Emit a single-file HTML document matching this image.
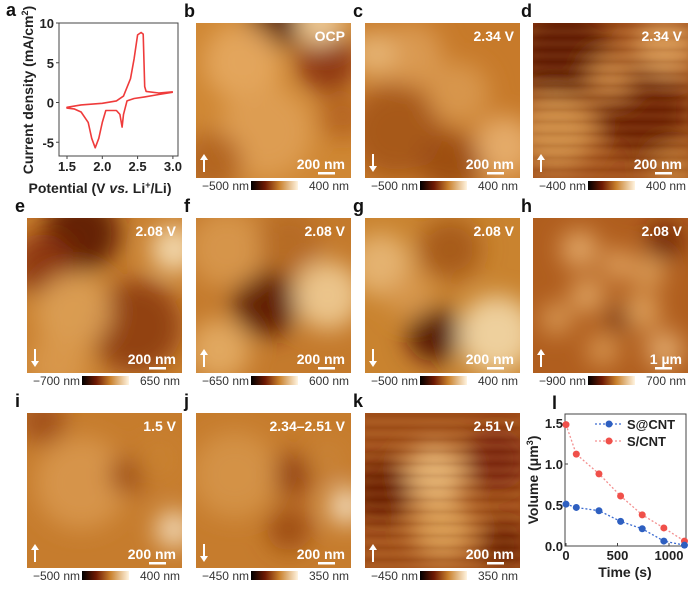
<!DOCTYPE html>
<html><head><meta charset="utf-8"><style>
body{margin:0;background:#fff;}
svg{display:block;font-family:"Liberation Sans",Arial,sans-serif;}
</style></head><body>
<svg id="fig" width="700" height="597" viewBox="0 0 700 597">
<defs>
<linearGradient id="cbar" x1="0" x2="1" y1="0" y2="0">
<stop offset="0" stop-color="#000"/><stop offset="0.3" stop-color="#6e1a04"/><stop offset="0.6" stop-color="#c8802c"/><stop offset="1" stop-color="#fff4e0"/>
</linearGradient>
<filter id="blur" x="-20%" y="-20%" width="140%" height="140%"><feGaussianBlur stdDeviation="12"/></filter>
<filter id="blur2" x="-20%" y="-20%" width="140%" height="140%"><feGaussianBlur stdDeviation="2"/></filter>
</defs>
<g id="panels"></g>
<g id="chartA"></g>
<g id="chartL"></g>
</svg>
<script>
// ---- CV data (panel a) ----
const cvV = [3.0,2.8,2.6,2.45,2.35,2.3,2.28,2.25,2.2,2.1,2.05,2.0,1.95,1.9,1.85,1.8,1.7,1.6,1.5,1.5,1.7,2.0,2.2,2.3,2.4,2.45,2.5,2.55,2.58,2.6,2.62,2.8,3.0];
const cvI = [1.3,1.0,0.7,0.5,0.2,-1.5,-3.1,-1.5,-1.0,-1.0,-1.0,-2.5,-4.5,-5.7,-4.5,-2.5,-1.2,-0.8,-0.7,-0.6,-0.3,-0.1,0.2,0.8,3.0,5.5,8.5,8.8,8.6,2.0,1.4,1.2,1.35];
const cvXTicks = [1.5,2.0,2.5,3.0];
const cvYTicks = [10,5,0,-5];
// ---- Volume data (panel l) ----
const timeS = [0,100,320,530,740,950,1150];
const volSatCNT = [0.51,0.47,0.43,0.30,0.21,0.06,0.01];
const volSCNT = [1.48,1.12,0.88,0.61,0.38,0.22,0.06];
const lXTicks = [0,500,1000];
const lYTicks = [0.0,0.5,1.0,1.5];

const NS="http://www.w3.org/2000/svg";
function el(tag,attrs,parent,txt){const e=document.createElementNS(NS,tag);for(const k in attrs)e.setAttribute(k,attrs[k]);if(txt!==undefined)e.textContent=txt;parent.appendChild(e);return e;}

// ---- AFM panels ----
const P=document.getElementById('panels');
const cols=[27,196,365,533], rows=[23,218,413], W=155, H=155;
const panels=[
 {id:'b',c:1,r:0,base:'#cf8734',lbl:'OCP',arrow:'up',scale:'200 nm',lo:'−500 nm',hi:'400 nm',blobs:[[0.5,0.0,0.18,'#4a1003'],[0.85,0.25,0.2,'#8a3208'],[0.3,0.25,0.25,'#e6a860'],[0.8,0.0,0.15,'#f2d2a0'],[0.45,0.7,0.3,'#dfa055'],[0.1,0.9,0.2,'#b0621c'],[0.95,0.6,0.15,'#b4631d']]},
 {id:'c',c:2,r:0,base:'#c77a2a',lbl:'2.34 V',arrow:'down',scale:'200 nm',lo:'−500 nm',hi:'400 nm',blobs:[[0.2,0.7,0.3,'#a4541a'],[0.6,0.45,0.2,'#d99950'],[0.3,0.2,0.2,'#dc9c55'],[0.9,0.8,0.2,'#e8b070'],[0.55,0.9,0.2,'#9a4a12'],[0.05,0.2,0.15,'#e8b778']]},
 {id:'d',c:3,r:0,base:'#a2501a',lbl:'2.34 V',arrow:'up',scale:'200 nm',lo:'−400 nm',hi:'400 nm',tex:true,blobs:[[0.2,0.2,0.3,'#5c1804'],[0.7,0.55,0.3,'#6a1e06'],[0.85,0.15,0.2,'#d99a55'],[0.15,0.7,0.25,'#d09048'],[0.5,0.35,0.15,'#c88440'],[0.9,0.95,0.15,'#c07a35']]},
 {id:'e',c:0,r:1,base:'#c9802f',lbl:'2.08 V',arrow:'down',scale:'200 nm',lo:'−700 nm',hi:'650 nm',blobs:[[0.35,0.1,0.25,'#5a1604'],[0.1,0.3,0.2,'#8a3208'],[0.95,0.2,0.15,'#f6e0b8'],[0.7,0.7,0.3,'#8c3a0c'],[0.3,0.6,0.25,'#dba055'],[0.2,0.95,0.2,'#d9994e']]},
 {id:'f',c:1,r:1,base:'#c47a2c',lbl:'2.08 V',arrow:'up',scale:'200 nm',lo:'−650 nm',hi:'600 nm',blobs:[[0.45,0.55,0.22,'#5a1604'],[0.85,0.5,0.22,'#f0cc95'],[0.2,0.2,0.25,'#d8984d'],[0.15,0.85,0.2,'#e4ad65'],[0.6,0.15,0.2,'#b56a24']]},
 {id:'g',c:2,r:1,base:'#c9832f',lbl:'2.08 V',arrow:'down',scale:'200 nm',lo:'−500 nm',hi:'400 nm',blobs:[[0.45,0.75,0.18,'#4a1003'],[0.55,0.2,0.2,'#a4561a'],[0.85,0.75,0.25,'#f2d8a8'],[0.1,0.3,0.2,'#e8b878'],[0.3,0.5,0.15,'#d8994f']]},
 {id:'h',c:3,r:1,base:'#b05e1e',lbl:'2.08 V',arrow:'up',scale:'1 µm',lo:'−900 nm',hi:'700 nm',blobs:[[0.3,0.2,0.12,'#e8b070'],[0.55,0.3,0.1,'#e5aa66'],[0.75,0.35,0.1,'#e3a862'],[0.35,0.5,0.11,'#e6ad6a'],[0.15,0.65,0.1,'#dfa25c'],[0.7,0.6,0.12,'#e4a963'],[0.45,0.85,0.1,'#dea05a'],[0.85,0.85,0.12,'#e8b275'],[0.85,0.15,0.12,'#6a1c05'],[0.55,0.65,0.08,'#6a1e06']]},
 {id:'i',c:0,r:2,base:'#c67c2d',lbl:'1.5 V',arrow:'up',scale:'200 nm',lo:'−500 nm',hi:'400 nm',blobs:[[0.35,0.45,0.3,'#d8974c'],[0.65,0.4,0.12,'#9a4812'],[0.95,0.75,0.12,'#f5e0c0'],[0.1,0.05,0.15,'#9e4c14'],[0.85,0.3,0.15,'#c98232']]},
 {id:'j',c:1,r:2,base:'#c67c2d',lbl:'2.34–2.51 V',arrow:'down',scale:'200 nm',lo:'−450 nm',hi:'350 nm',blobs:[[0.6,0.4,0.14,'#8e3a0c'],[0.6,0.75,0.14,'#9a4812'],[0.25,0.4,0.28,'#d59448'],[0.97,0.6,0.12,'#f6e2c4'],[0.85,0.3,0.12,'#c98436']]},
 {id:'k',c:2,r:2,base:'#a4521a',lbl:'2.51 V',arrow:'up',scale:'200 nm',lo:'−450 nm',hi:'350 nm',tex:true,blobs:[[0.45,0.4,0.2,'#e8b878'],[0.5,0.75,0.2,'#dba055'],[0.1,0.5,0.2,'#6a1c05'],[0.85,0.3,0.2,'#7a2608'],[0.9,0.85,0.15,'#6a1c05']]}
];
panels.forEach(p=>{
 const x=cols[p.c], y=rows[p.r];
 const g=el('g',{},P);
 
 
 const cid='clip'+p.id;
 const cp=el('clipPath',{id:cid},g); el('rect',{x:x,y:y,width:W,height:H},cp);
 const ig=el('g',{'clip-path':'url(#'+cid+')'},g);
 el('rect',{x:x,y:y,width:W,height:H,fill:p.base},ig);
 const bg=el('g',{filter:'url(#blur)'},ig);
 p.blobs.forEach(b=>{el('circle',{cx:x+b[0]*W,cy:y+b[1]*H,r:b[2]*W,fill:b[3],opacity:0.9},bg);});
 if(p.tex){const tg=el('g',{filter:'url(#blur2)',opacity:0.3},ig);
  for(let k=0;k<26;k++){el('rect',{x:x,y:y+k*6+2,width:W,height:1.5,fill:k%2?'#e8b878':'#5a1604'},tg);}}
 const lab=el('text',{x:x-12,y:y-6,'font-size':18,'font-weight':'bold',fill:'#111'},P,p.id);
 
 
 const vt=el('text',{x:x+W-6,y:y+18,'font-size':14,'font-weight':'bold',fill:'#fff','text-anchor':'end'},g,p.lbl);
 
 
 const st=el('text',{x:x+W-6,y:y+H-9,'font-size':14,'font-weight':'bold',fill:'#fff','text-anchor':'end'},g,p.scale);
 
 
 el('rect',{x:x+W-33,y:y+H-6,width:17,height:2.5,fill:'#fff'},g);
 const ax=x+8, a1=y+H-24, a2=y+H-6;
 if(p.arrow==='up'){el('line',{x1:ax,y1:a2,x2:ax,y2:a1+4,stroke:'#fff','stroke-width':2},g);el('path',{d:`M${ax-4},${a1+6}L${ax},${a1}L${ax+4},${a1+6}Z`,fill:'#fff'},g);}
 else{el('line',{x1:ax,y1:a1,x2:ax,y2:a2-4,stroke:'#fff','stroke-width':2},g);el('path',{d:`M${ax-4},${a2-6}L${ax},${a2}L${ax+4},${a2-6}Z`,fill:'#fff'},g);}
 const cy=y+H+3;
 const cb=el('rect',{x:x+55,y:cy,width:47,height:9,fill:'url(#cbar)'},g);
 
 
 el('text',{x:x+53,y:cy+9,'font-size':12,fill:'#333','text-anchor':'end'},g,p.lo);
 el('text',{x:x+W-2,y:cy+9,'font-size':12,fill:'#333','text-anchor':'end'},g,p.hi);
});

// ---- Panel a: CV ----
(function(){
 const A=document.getElementById('chartA');
 const L=59,R=178,T=23,B=156;
 const xs=v=>67+(v-1.5)/0.5*35.3;
 const ys=i=>102.5-i*7.95;
 el('text',{x:6,y:16,'font-size':18,'font-weight':'bold',fill:'#111'},A,'a');
 const fr=el('rect',{x:L,y:T,width:R-L,height:B-T,fill:'none',stroke:'#444','stroke-width':1},A);
 
 
 cvXTicks.forEach(t=>{el('line',{x1:xs(t),x2:xs(t),y1:B,y2:B+3,stroke:'#444'},A);el('text',{x:xs(t),y:B+15,'font-size':13,'font-weight':'bold','text-anchor':'middle',fill:'#222'},A,t.toFixed(1));});
 cvYTicks.forEach(t=>{el('line',{x1:L,x2:L-3,y1:ys(t),y2:ys(t),stroke:'#444'},A);el('text',{x:L-5,y:ys(t)+5,'font-size':13,'font-weight':'bold','text-anchor':'end',fill:'#222'},A,String(t));});
 const d=cvV.map((v,k)=>(k?'L':'M')+xs(v).toFixed(1)+','+ys(cvI[k]).toFixed(1)).join('');
 const cur=el('path',{d:d,fill:'none',stroke:'#ef3b3b','stroke-width':1.6,'stroke-linejoin':'round'},A);
 
 
 const xl=el('text',{x:100,y:193,'font-size':14,'font-weight':'bold','text-anchor':'middle',fill:'#222'},A);
 xl.innerHTML='Potential (V <tspan font-style="italic">vs.</tspan> Li<tspan font-size="9" dy="-5">+</tspan><tspan dy="5">/Li)</tspan>';
 
 
 const yl=el('text',{transform:'translate(33,90) rotate(-90)','font-size':14,'font-weight':'bold','text-anchor':'middle',fill:'#222'},A);
 yl.innerHTML='Current density (mA/cm<tspan font-size="9" dy="-5">2</tspan><tspan dy="5">)</tspan>';
 
 
})();

// ---- Panel l: Volume ----
(function(){
 const A=document.getElementById('chartL');
 const L=565,R=686,T=414,B=546;
 const xs=t=>566+t/1000*103;
 const ys=v=>B-v/1.5*123;
 el('text',{x:552,y:409,'font-size':18,'font-weight':'bold',fill:'#111'},A,'l');
 const fr=el('rect',{x:L,y:T,width:R-L,height:B-T,fill:'none',stroke:'#444','stroke-width':1},A);
 
 
 lXTicks.forEach(t=>{el('line',{x1:xs(t),x2:xs(t),y1:B,y2:B-3,stroke:'#444'},A);el('text',{x:xs(t),y:B+14,'font-size':13,'font-weight':'bold','text-anchor':'middle',fill:'#222'},A,String(t));});
 lYTicks.forEach(t=>{el('line',{x1:L,x2:L+3,y1:ys(t),y2:ys(t),stroke:'#444'},A);el('text',{x:L-2,y:ys(t)+5,'font-size':13,'font-weight':'bold','text-anchor':'end',fill:'#222'},A,t.toFixed(1));});
 const series=[{v:volSCNT,c:'#f0504a',lc:'#f39090',n:'s-cnt'},{v:volSatCNT,c:'#2e5fc0',lc:'#3a6ad0',n:'s-at-cnt'}];
 series.forEach(s=>{
  const d=timeS.map((t,k)=>(k?'L':'M')+xs(t).toFixed(1)+','+ys(s.v[k]).toFixed(1)).join('');
  const ln=el('path',{d:d,fill:'none',stroke:s.lc,'stroke-width':1.3,'stroke-dasharray':'2,2'},A);
  
  
  timeS.forEach((t,k)=>{const c=el('circle',{cx:xs(t),cy:ys(s.v[k]),r:3.5,fill:s.c},A);
   
   });
 });
 [[ 'S@CNT','#2e5fc0','#3a6ad0',424],['S/CNT','#f0504a','#f39090',441]].forEach(e=>{
  const g=el('g',{},A);
  
  
  el('line',{x1:595,x2:622,y1:e[3],y2:e[3],stroke:e[2],'stroke-width':1.3,'stroke-dasharray':'2,2'},g);
  el('circle',{cx:609,cy:e[3],r:3.5,fill:e[1]},g);
  el('text',{x:627,y:e[3]+5,'font-size':13,'font-weight':'bold',fill:'#222'},g,e[0]);
 });
 const xl=el('text',{x:625,y:577,'font-size':14,'font-weight':'bold','text-anchor':'middle',fill:'#222'},A,'Time (s)');
 
 
 const yl=el('text',{transform:'translate(538,480) rotate(-90)','font-size':14,'font-weight':'bold','text-anchor':'middle',fill:'#222'},A);
 yl.innerHTML='Volume (μm<tspan font-size="9" dy="-5">3</tspan><tspan dy="5">)</tspan>';
 
 
})();
</script>
</body></html>
